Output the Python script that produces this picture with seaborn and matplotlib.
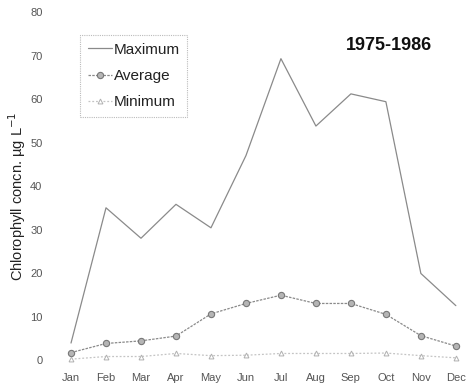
import matplotlib
matplotlib.use("Agg")
import matplotlib.pyplot as plt
import seaborn as sns
import numpy as np
import pandas as pd

months = ["Jan", "Feb", "Mar", "Apr", "May", "Jun", "Jul", "Aug", "Sep", "Oct", "Nov", "Dec"]
maximum = [3.9, 35.0, 28.0, 35.8, 30.4, 47.0, 69.3, 53.8, 61.2, 59.4, 19.9, 12.5]
average = [1.7, 3.8, 4.4, 5.5, 10.6, 13.0, 14.9, 13.0, 13.0, 10.5, 5.6, 3.2]
minimum = [0.2, 0.8, 0.8, 1.5, 1.0, 1.1, 1.5, 1.5, 1.5, 1.6, 1.0, 0.5]
y_ticks = [0, 10, 20, 30, 40, 50, 60, 70, 80]
period = "1975-1986"

sns.set_theme(style="white")
plt.rcParams["font.family"] = ["Liberation Sans", "DejaVu Sans"]

fig = plt.figure(figsize=(4.67, 3.83), dpi=100)
ax = fig.add_axes([0.1296, 0.0487, 0.869, 0.931])

pos = np.arange(len(months))
df = pd.DataFrame({"pos": pos, "Maximum": maximum, "Average": average, "Minimum": minimum})

sns.lineplot(data=df, x="pos", y="Maximum", ax=ax, color="#8a8a8a", linewidth=0.9,
             label="Maximum")
sns.lineplot(data=df, x="pos", y="Average", ax=ax, color="#8a8a8a", linewidth=0.9,
             linestyle=(0, (2, 1)), marker="o", markersize=4.5,
             markerfacecolor="#b5b5b5", markeredgecolor="#777777", markeredgewidth=0.8,
             label="Average")
sns.lineplot(data=df, x="pos", y="Minimum", ax=ax, color="#c4c4c4", linewidth=0.9,
             linestyle=(0, (1.5, 1.5)), marker="^", markersize=3.5,
             markerfacecolor="white", markeredgecolor="#b0b0b0", markeredgewidth=0.7,
             label="Minimum")

ax.set_xlim(-0.3, 11.3)
ax.set_ylim(-1, 81)
ax.set_xticks(pos)
ax.set_xticklabels(months)
ax.set_yticks(y_ticks)
ax.set_yticklabels([str(t) for t in y_ticks])
ax.tick_params(axis="both", length=0, labelsize=8, labelcolor="#555555")
ax.tick_params(axis="y", pad=13)
ax.tick_params(axis="x", pad=6)
for s in ax.spines.values():
    s.set_visible(False)

ax.set_xlabel("")
ax.set_ylabel("Chlorophyll concn. µg L$^{-1}$", fontsize=10.5, color="#222222")
ax.yaxis.set_label_coords(-0.08, 0.47)

ax.text(432 / 467, 1 - 45 / 383, period, transform=fig.transFigure, ha="right",
        va="center", fontsize=13, fontweight="bold", color="#111111")

leg = ax.legend(loc="upper left", bbox_to_anchor=(80 / 467, 1 - 35 / 383),
                bbox_transform=fig.transFigure, fontsize=11,
                frameon=True, fancybox=False, handlelength=1.6, handletextpad=0.1,
                labelspacing=0.8, borderpad=0.5, borderaxespad=0)
leg.get_frame().set_edgecolor("#aaaaaa")
leg.get_frame().set_linestyle((0, (1, 1)))
leg.get_frame().set_linewidth(0.8)
for t in leg.get_texts():
    t.set_color("#222222")

fig.savefig("out.png", dpi=100)
